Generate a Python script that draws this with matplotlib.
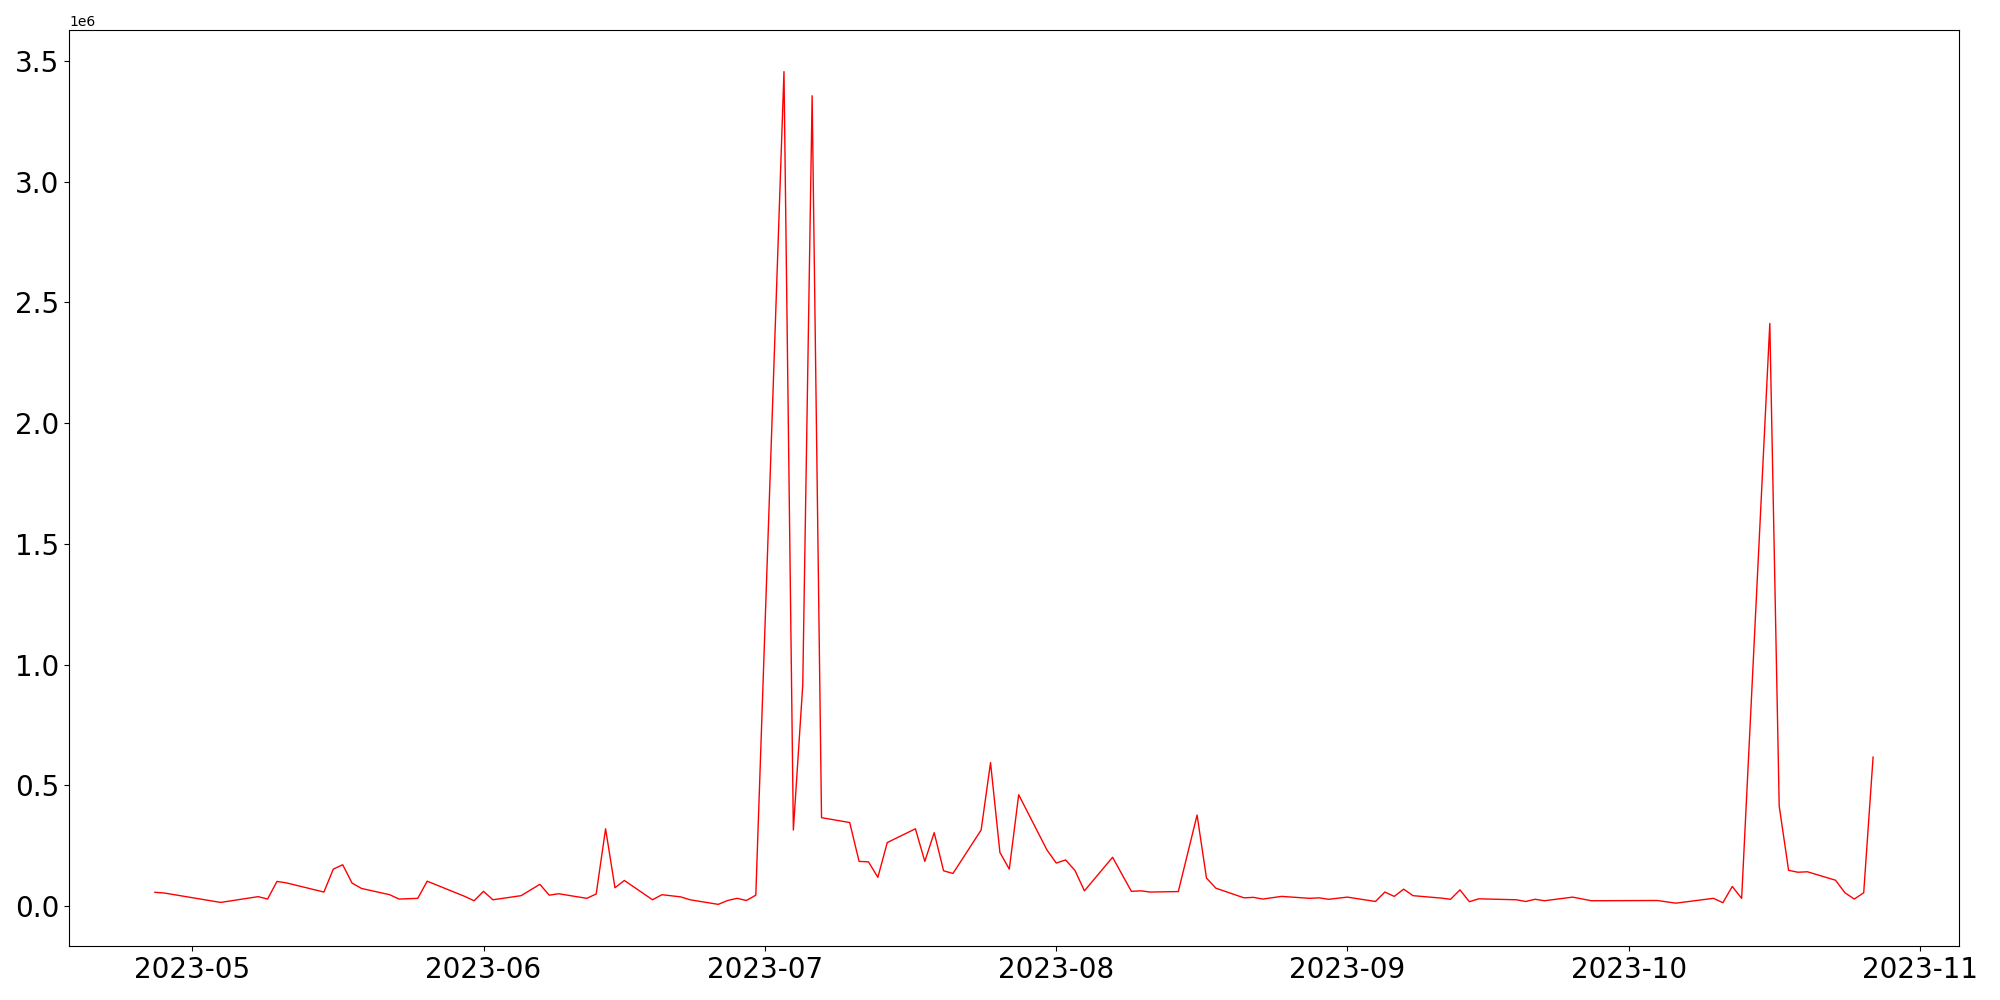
import matplotlib
matplotlib.use('Agg')
import matplotlib.pyplot as plt
import pandas as pd

dates = ['2023-04-27', '2023-04-28', '2023-05-04', '2023-05-08', '2023-05-09', '2023-05-10',
         '2023-05-11', '2023-05-15', '2023-05-16', '2023-05-17', '2023-05-18', '2023-05-19',
         '2023-05-22', '2023-05-23', '2023-05-25', '2023-05-26', '2023-05-30', '2023-05-31',
         '2023-06-01', '2023-06-02', '2023-06-05', '2023-06-07', '2023-06-08', '2023-06-09',
         '2023-06-12', '2023-06-13', '2023-06-14', '2023-06-15', '2023-06-16', '2023-06-19',
         '2023-06-20', '2023-06-22', '2023-06-23', '2023-06-26', '2023-06-27', '2023-06-28',
         '2023-06-29', '2023-06-30', '2023-07-03', '2023-07-04', '2023-07-05', '2023-07-06',
         '2023-07-07', '2023-07-10', '2023-07-11', '2023-07-12', '2023-07-13', '2023-07-14',
         '2023-07-17', '2023-07-18', '2023-07-19', '2023-07-20', '2023-07-21', '2023-07-24',
         '2023-07-25', '2023-07-26', '2023-07-27', '2023-07-28', '2023-07-31', '2023-08-01',
         '2023-08-02', '2023-08-03', '2023-08-04', '2023-08-07', '2023-08-09', '2023-08-10',
         '2023-08-11', '2023-08-14', '2023-08-16', '2023-08-17', '2023-08-18', '2023-08-21',
         '2023-08-22', '2023-08-23', '2023-08-25', '2023-08-28', '2023-08-29', '2023-08-30',
         '2023-09-01', '2023-09-04', '2023-09-05', '2023-09-06', '2023-09-07', '2023-09-08',
         '2023-09-11', '2023-09-12', '2023-09-13', '2023-09-14', '2023-09-15', '2023-09-19',
         '2023-09-20', '2023-09-21', '2023-09-22', '2023-09-25', '2023-09-27', '2023-10-04',
         '2023-10-06', '2023-10-10', '2023-10-11', '2023-10-12', '2023-10-13', '2023-10-16',
         '2023-10-17', '2023-10-18', '2023-10-19', '2023-10-20', '2023-10-23', '2023-10-24',
         '2023-10-25', '2023-10-26', '2023-10-27']

# values in millions
values_m = [0.057, 0.054, 0.015, 0.039, 0.029, 0.102,
            0.096, 0.058, 0.153, 0.171, 0.095, 0.073,
            0.047, 0.029, 0.032, 0.103, 0.040, 0.022,
            0.061, 0.026, 0.043, 0.090, 0.045, 0.051,
            0.032, 0.050, 0.320, 0.076, 0.106, 0.026,
            0.047, 0.038, 0.026, 0.007, 0.023, 0.032,
            0.023, 0.045, 3.456, 0.315, 0.915, 3.356,
            0.366, 0.346, 0.185, 0.183, 0.119, 0.263,
            0.320, 0.185, 0.304, 0.146, 0.135, 0.315,
            0.594, 0.222, 0.153, 0.461, 0.233, 0.178,
            0.191, 0.147, 0.063, 0.202, 0.061, 0.063,
            0.058, 0.060, 0.377, 0.116, 0.074, 0.034,
            0.036, 0.029, 0.040, 0.032, 0.034, 0.028,
            0.037, 0.019, 0.058, 0.040, 0.070, 0.043,
            0.033, 0.028, 0.067, 0.018, 0.030, 0.026,
            0.019, 0.028, 0.022, 0.037, 0.022, 0.023,
            0.012, 0.032, 0.014, 0.081, 0.032, 2.413,
            0.414, 0.148, 0.140, 0.142, 0.107, 0.055,
            0.029, 0.055, 0.617]

x = pd.to_datetime(dates)
y = [v * 1e6 for v in values_m]

fig, ax = plt.subplots(figsize=(20, 10), dpi=100)
ax.plot(x, y, color='red', linewidth=1)
ax.tick_params(axis='both', labelsize=20)

plt.subplots_adjust(left=0.0345, right=0.9795, bottom=0.054, top=0.97)
plt.savefig('out.png')
